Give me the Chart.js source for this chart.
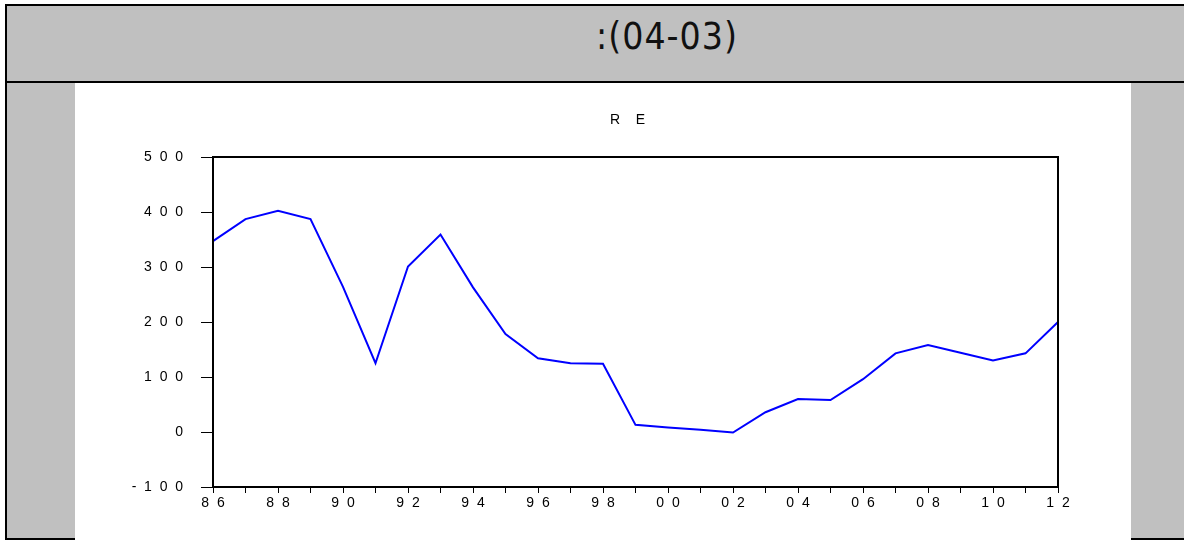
<!DOCTYPE html>
<html lang="en">
<head>
  <meta charset="UTF-8">
  <title>RE</title>
  <script src="https://cdn.jsdelivr.net/npm/chart.js@4"></script>
  <style>
    html, body { margin: 0; padding: 0; background: #fff; overflow: hidden; }
    body { width: 1184px; height: 540px; position: relative; }
    #frame {
      position: absolute; left: 5px; top: 4px; right: -10px; height: 532px;
      background: #c0c0c0;
      border-top: 2px solid #000; border-left: 2px solid #000; border-bottom: 2px solid #000;
    }
    #divider { position: absolute; left: 5px; right: 0; top: 81px; height: 2px; background: #000; }
    #heading {
      position: absolute; left: 596px; top: 15px;
      font-family: "Liberation Sans Narrow", "DejaVu Sans Condensed", sans-serif;
      font-size: 37px; letter-spacing: 1px; color: #111; line-height: 44px;
    }
    #panel { position: absolute; left: 75px; top: 83px; width: 1056px; height: 457px; background: #fff; }
    #chartTitle {
      position: absolute; left: 610px; top: 111px; white-space: pre;
      font-family: "Liberation Sans", Arial, sans-serif; font-size: 14px; line-height: 16px; color: #000;
    }
  </style>
</head>
<body>
  <div id="frame"></div>
  <div id="divider"></div>
  <div id="heading">:(04-03)</div>
  <div id="panel"><canvas id="reChart" width="1056" height="457"></canvas></div>
  <div id="chartTitle">R    E</div>

  <script>
    // Series data
    const years = ['86', '87', '88', '89', '90', '91', '92', '93', '94', '95', '96', '97', '98', '99',
                   '00', '01', '02', '03', '04', '05', '06', '07', '08', '09', '10', '11', '12'];
    const reValues = [347, 387, 402, 387, 264, 125, 301, 359, 263, 178, 134, 125, 124, 13,
                      8, 4, -1, 36, 60, 58, 96, 143, 158, 144, 130, 143, 200];
    const yTicks = [-100, 0, 100, 200, 300, 400, 500];

    // spaced-out digits like the original output
    function spaced(s) {
      return String(s).split('').join('  ');
    }

    // box around the plot area
    const frameBox = {
      id: 'frameBox',
      afterDraw(chart) {
        const a = chart.chartArea;
        const ctx = chart.ctx;
        ctx.save();
        ctx.strokeStyle = '#000';
        ctx.lineWidth = 2;
        ctx.strokeRect(a.left, a.top, a.right - a.left, a.bottom - a.top);
        ctx.restore();
      }
    };

    const tickFont = { family: 'Liberation Sans, Arial, sans-serif', size: 14 };

    new Chart(document.getElementById('reChart'), {
      type: 'line',
      data: {
        labels: years,
        datasets: [{
          label: 'RE',
          data: reValues,
          borderColor: '#0000ff',
          borderWidth: 2,
          pointRadius: 0,
          tension: 0,
          fill: false
        }]
      },
      options: {
        responsive: false,
        animation: false,
        layout: { padding: { left: 38, right: 73, top: 74, bottom: 0 } },
        plugins: {
          legend: { display: false },
          tooltip: { enabled: false },
          title: { display: false }
        },
        scales: {
          x: {
            type: 'category',
            offset: false,
            grid: { offset: false, drawOnChartArea: false, tickLength: 6, color: '#000', tickColor: '#000' },
            border: { color: '#000', width: 2 },
            ticks: {
              autoSkip: false,
              maxRotation: 0,
              padding: 2,
              color: '#000',
              font: tickFont,
              callback: function(v, i) { return i % 2 === 0 ? spaced(years[i]) : ''; }
            },
            afterFit: function(s) { s.height = 53; }
          },
          y: {
            min: yTicks[0],
            max: yTicks[yTicks.length - 1],
            afterBuildTicks: function(s) { s.ticks = yTicks.map(v => ({ value: v })); },
            grid: { drawOnChartArea: false, tickLength: 12, color: '#000', tickColor: '#000' },
            border: { color: '#000', width: 2 },
            ticks: {
              padding: 18,
              color: '#000',
              font: tickFont,
              callback: function(v) { return spaced(v); }
            },
            afterFit: function(s) { s.width = 100; }
          }
        }
      },
      plugins: [frameBox]
    });
  </script>
</body>
</html>
